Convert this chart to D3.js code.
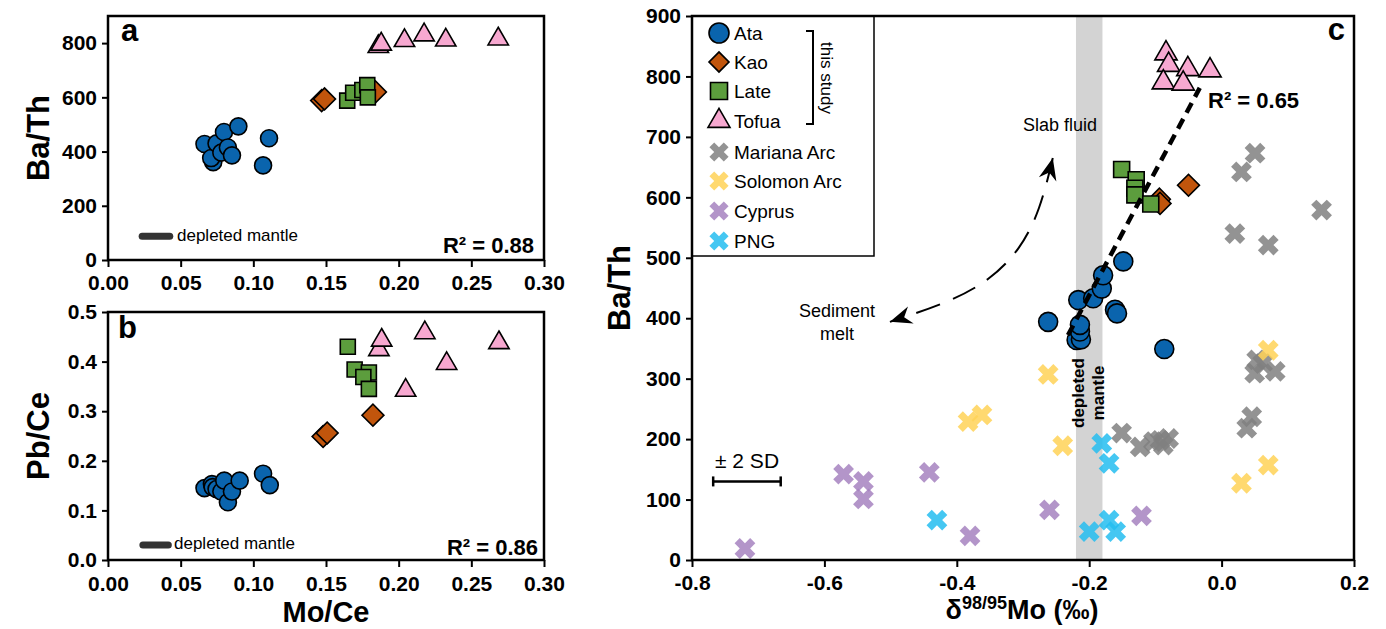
<!DOCTYPE html>
<html>
<head>
<meta charset="utf-8">
<script src="https://cdn.jsdelivr.net/npm/d3@7"></script>
<style>
body { margin: 0; background: #fff; }
text { font-family: "Liberation Sans", Arial, sans-serif; }
</style>
</head>
<body>
<div class="container"></div>
<script>
// ---- panel a : Mo/Ce vs Ba/Th
const ataA = [[0.0664,428],[0.0724,361],[0.071,376],[0.0747,430],[0.0798,472],[0.078,396],[0.0825,415],[0.0853,386],[0.0897,493],[0.1108,449],[0.1067,349]]
const kaoA = [[0.147,588],[0.149,594],[0.184,620]]
const lateA = [[0.1646,588],[0.1687,617],[0.175,627],[0.1784,645],[0.1788,600]]
const tofuaA = [[0.186,787],[0.188,796],[0.204,809],[0.2175,830],[0.2324,811],[0.2685,815]]
const mantleA = [[0.0235,88],[0.0425,88]]

// ---- panel b : Mo/Ce vs Pb/Ce
const ataB = [[0.0664,0.145],[0.0715,0.153],[0.072,0.147],[0.0747,0.143],[0.078,0.138],[0.080,0.160],[0.0825,0.1165],[0.0853,0.138],[0.0906,0.160],[0.1067,0.174],[0.1113,0.151]]
const kaoB = [[0.148,0.249],[0.1508,0.256],[0.1823,0.292]]
const lateB = [[0.165,0.430],[0.1697,0.384],[0.1795,0.378],[0.1757,0.369],[0.1795,0.345]]
const tofuaB = [[0.1864,0.424],[0.1883,0.443],[0.2048,0.342],[0.218,0.458],[0.233,0.396],[0.269,0.438]]
const mantleB = [[0.024,0.030],[0.0415,0.030]]

// ---- panel c : d98/95Mo vs Ba/Th
const ataC = [[-0.262,394],[-0.2165,430],[-0.219,364],[-0.2125,365],[-0.214,378],[-0.214,389],[-0.194,433],[-0.181,449],[-0.179,471],[-0.1485,494],[-0.161,414],[-0.158,408],[-0.0866,349]]
const kaoC = [[-0.094,597],[-0.093,590],[-0.050,620]]
const lateC = [[-0.151,646],[-0.129,629],[-0.131,615],[-0.131,604],[-0.107,589]]
const tofuaC = [[-0.084,838],[-0.080,819],[-0.051,812],[-0.0175,810],[-0.088,790],[-0.058,788]]
const marianaC = [[0.0505,673],[0.030,642],[0.151,579],[0.020,540],[0.0705,521],[0.053,331],[0.062,325],[0.050,309],[0.081,312],[0.0455,237],[0.038,218],[-0.151,210],[-0.123,187],[-0.103,196],[-0.093,198],[-0.080,201],[-0.088,190]]
const solomonC = [[-0.262,307],[-0.383,229],[-0.362,240],[-0.240,189],[0.0705,347],[0.0705,157],[0.030,127]]
const cyprusC = [[-0.72,19],[-0.571,142],[-0.541,130],[-0.541,101],[-0.4415,145],[-0.380,40],[-0.26,83],[-0.121,73]]
const pngC = [[-0.430,66],[-0.181,193],[-0.170,160],[-0.200,47],[-0.170,66],[-0.160,47]]
const mantleBandC = [-0.22, -0.18]
const trendC = [[-0.232,372],[-0.033,781]]
const fluidMeltC = [[-0.255,665],[-0.274,579],[-0.3045,513],[-0.350,463],[-0.410,427],[-0.501,394]]
const sdBarC = [[-0.768,130],[-0.666,130]]

const ticksMoCe = [0,0.05,0.1,0.15,0.2,0.25,0.3]
const ticksBaTh = [0,200,400,600,800]
const ticksPbCe = [0,0.1,0.2,0.3,0.4,0.5]
const ticksMo = [-0.8,-0.6,-0.4,-0.2,0,0.2]
const ticksBaThC = [0,100,200,300,400,500,600,700,800,900]

const col = {ata:"#0a64ad", kao:"#c1550c", late:"#5c9d3d", tofua:"#f7a8d0",
  mariana:"#808080", solomon:"#ffd257", cyprus:"#a682bf", png:"#25bdf0"}

const svg = d3.select(".container").append("svg")
  .attr("width", 1386).attr("height", 629)

const xA = d3.scaleLinear().domain([0,0.3]).range([108,544])
const yA = d3.scaleLinear().domain([0,900]).range([260,16])
const xB = d3.scaleLinear().domain([0,0.3]).range([108,544])
const yB = d3.scaleLinear().domain([0,0.5]).range([560,312])
const xC = d3.scaleLinear().domain([-0.8,0.2]).range([692,1354])
const yC = d3.scaleLinear().domain([0,900]).range([560,16])

function axes(x, y, xt, yt, xf, yf, xpad) {
  const gx = svg.append("g").attr("transform", `translate(0,${y.range()[0]})`)
    .call(d3.axisBottom(x).tickValues(xt).tickFormat(xf).tickSize(7).tickPadding(xpad))
  const gy = svg.append("g").attr("transform", `translate(${x.range()[0]},0)`)
    .call(d3.axisLeft(y).tickValues(yt).tickFormat(yf).tickSize(6).tickPadding(5))
  ;[gx, gy].forEach(g => {
    g.select(".domain").remove()
    g.selectAll("line").attr("stroke", "#000").attr("stroke-width", 2)
    g.selectAll("text").attr("fill", "#000").style("font-size", "21px")
      .style("font-weight", "bold").style("font-family", '"Liberation Sans", Arial, sans-serif')
  })
}

function frame(x, y) {
  svg.append("rect")
    .attr("x", x.range()[0]).attr("y", y.range()[1])
    .attr("width", x.range()[1]-x.range()[0]).attr("height", y.range()[0]-y.range()[1])
    .attr("fill", "none").attr("stroke", "#000").attr("stroke-width", 2.5)
}

function points(data, x, y, type, size, fill, rot) {
  svg.append("g").selectAll("path").data(data).join("path")
    .attr("d", d3.symbol().type(type).size(size))
    .attr("transform", d => `translate(${x(d[0])},${y(d[1])}) rotate(${rot||0})`)
    .attr("fill", fill).attr("stroke", "#000").attr("stroke-width", 1.6)
}

function crosses(data, x, y, fill) {
  svg.append("g").selectAll("path").data(data).join("path")
    .attr("d", d3.symbol().type(d3.symbolCross).size(270))
    .attr("transform", d => `translate(${x(d[0])},${y(d[1])}) rotate(45)`)
    .attr("fill", fill).attr("fill-opacity", 0.85)
}

function label(t, x, y, size, opts) {
  opts = opts || {}
  return svg.append("text").attr("x", x).attr("y", y).text(t)
    .style("font-size", size + "px")
    .style("font-weight", opts.bold ? "bold" : "normal")
    .attr("text-anchor", opts.anchor || "start")
    .attr("transform", opts.rot ? `rotate(${opts.rot},${x},${y})` : null)
}

const mantleBar = (data, x, y) => svg.append("path")
  .attr("d", d3.line().x(d => x(d[0])).y(d => y(d[1]))(data))
  .attr("stroke", "#333").attr("stroke-width", 7).attr("stroke-linecap", "round")

// ---------- panel a
axes(xA, yA, ticksMoCe, ticksBaTh, d3.format(".2f"), d3.format("d"), 8)
mantleBar(mantleA, xA, yA)
label("depleted mantle", 177, 241, 17)
points(ataA, xA, yA, d3.symbolCircle, 227, col.ata)
points(kaoA, xA, yA, d3.symbolSquare, 240, col.kao, 45)
points(lateA, xA, yA, d3.symbolSquare, 225, col.late)
points(tofuaA, xA, yA, d3.symbolTriangle, 180, col.tofua)
frame(xA, yA)
label("a", 121, 41, 31, {bold:true})
label("R² = 0.88", 534, 253, 22, {bold:true, anchor:"end"})
label("Ba/Th", 49, 138, 31, {bold:true, anchor:"middle", rot:-90})

// ---------- panel b
axes(xB, yB, ticksMoCe, ticksPbCe, d3.format(".2f"), d3.format(".1f"), 9)
mantleBar(mantleB, xB, yB)
label("depleted mantle", 174, 549, 17)
points(ataB, xB, yB, d3.symbolCircle, 227, col.ata)
points(kaoB, xB, yB, d3.symbolSquare, 240, col.kao, 45)
points(lateB, xB, yB, d3.symbolSquare, 225, col.late)
points(tofuaB, xB, yB, d3.symbolTriangle, 180, col.tofua)
frame(xB, yB)
label("b", 118, 338, 31, {bold:true})
label("R² = 0.86", 538, 555, 22, {bold:true, anchor:"end"})
label("Pb/Ce", 49, 436, 31, {bold:true, anchor:"middle", rot:-90})
label("Mo/Ce", 326, 622, 29, {bold:true, anchor:"middle"})

// ---------- panel c
svg.append("rect")
  .attr("x", xC(mantleBandC[0])).attr("y", yC.range()[1])
  .attr("width", xC(mantleBandC[1]) - xC(mantleBandC[0]))
  .attr("height", yC.range()[0] - yC.range()[1])
  .attr("fill", "#d3d3d3")
const bandMid = (xC(mantleBandC[0]) + xC(mantleBandC[1])) / 2
label("depleted", bandMid - 5, 393, 17, {bold:true, anchor:"middle", rot:-90})
label("mantle", bandMid + 15, 393, 17, {bold:true, anchor:"middle", rot:-90})

axes(xC, yC, ticksMo, ticksBaThC, d => d3.format(".1f")(d).replace("−", "-"), d3.format("d"), 8)

crosses(marianaC, xC, yC, col.mariana)
crosses(solomonC, xC, yC, col.solomon)
crosses(cyprusC, xC, yC, col.cyprus)
crosses(pngC, xC, yC, col.png)
points(ataC, xC, yC, d3.symbolCircle, 283, col.ata)
points(kaoC, xC, yC, d3.symbolSquare, 240, col.kao, 45)
points(lateC, xC, yC, d3.symbolSquare, 256, col.late)
points(tofuaC, xC, yC, d3.symbolTriangle, 215, col.tofua)

svg.append("path")
  .attr("d", d3.line().x(d => xC(d[0])).y(d => yC(d[1]))(trendC))
  .attr("stroke", "#000").attr("stroke-width", 4.5).attr("stroke-dasharray", "11,7").attr("fill", "none")
label("R² = 0.65", 1208, 108, 22, {bold:true})

// curved dashed arrow slab fluid / sediment melt
svg.append("defs").append("marker")
  .attr("id", "head").attr("markerUnits", "userSpaceOnUse")
  .attr("markerWidth", 30).attr("markerHeight", 30).attr("viewBox", "-24 -12 30 24")
  .attr("refX", 0).attr("refY", 0).attr("orient", "auto-start-reverse")
  .append("path").attr("d", "M0,0 L-22,-9 L-15,0 L-22,9 Z").attr("fill", "#000")
svg.append("path")
  .attr("d", d3.line().curve(d3.curveBasis).x(d => xC(d[0])).y(d => yC(d[1]))(fluidMeltC))
  .attr("stroke", "#000").attr("stroke-width", 2).attr("fill", "none")
  .attr("stroke-dasharray", "25,14")
  .attr("marker-start", "url(#head)").attr("marker-end", "url(#head)")
label("Slab fluid", 1023, 131, 18)
label("Sediment", 837, 317, 18, {anchor:"middle"})
label("melt", 837, 340, 18, {anchor:"middle"})

// +- 2 SD bar
const sdY = yC(sdBarC[0][1])
svg.append("path")
  .attr("d", d3.line().x(d => xC(d[0])).y(d => yC(d[1]))(sdBarC))
  .attr("stroke", "#000").attr("stroke-width", 2.5)
sdBarC.forEach(d => svg.append("line")
  .attr("x1", xC(d[0])).attr("x2", xC(d[0])).attr("y1", sdY - 5).attr("y2", sdY + 5)
  .attr("stroke", "#000").attr("stroke-width", 2.5))
label("± 2 SD", 715, 468, 21)

// legend
const lg = svg.append("g")
lg.append("rect").attr("x", 692).attr("y", 16).attr("width", 182).attr("height", 240)
  .attr("fill", "#fff").attr("stroke", "#000").attr("stroke-width", 1.5)
const legendItems = [
  ["Ata", d3.symbolCircle, 314, col.ata, 0, true],
  ["Kao", d3.symbolSquare, 200, col.kao, 45, true],
  ["Late", d3.symbolSquare, 290, col.late, 0, true],
  ["Tofua", d3.symbolTriangle, 210, col.tofua, 0, true],
  ["Mariana Arc", d3.symbolCross, 230, col.mariana, 45, false],
  ["Solomon Arc", d3.symbolCross, 230, col.solomon, 45, false],
  ["Cyprus", d3.symbolCross, 230, col.cyprus, 45, false],
  ["PNG", d3.symbolCross, 230, col.png, 45, false]
]
const legendY = [33, 62, 91, 121, 152, 181, 211, 241]
legendItems.forEach((it, i) => {
  lg.append("path").attr("d", d3.symbol().type(it[1]).size(it[2]))
    .attr("transform", `translate(719,${legendY[i]}) rotate(${it[4]})`)
    .attr("fill", it[3]).attr("fill-opacity", it[5] ? 1 : 0.85)
    .attr("stroke", it[5] ? "#000" : "none").attr("stroke-width", 1.6)
  lg.append("text").attr("x", 734).attr("y", legendY[i] + 7).text(it[0]).style("font-size", "19px")
})
lg.append("path").attr("d", "M806,31 H813 V124 H806").attr("fill", "none")
  .attr("stroke", "#000").attr("stroke-width", 2)
label("this study", 821, 78, 17, {anchor:"middle", rot:90})

frame(xC, yC)
label("c", 1345, 40, 31, {bold:true, anchor:"end"})
label("Ba/Th", 630, 288, 31, {bold:true, anchor:"middle", rot:-90})
const xt = svg.append("text").attr("x", 1022).attr("y", 619).attr("text-anchor", "middle")
  .style("font-size", "27px").style("font-weight", "bold")
xt.append("tspan").text("δ")
xt.append("tspan").text("98/95").attr("dy", -10).style("font-size", "18px")
xt.append("tspan").text("Mo (‰)").attr("dy", 10)
</script>
</body>
</html>
